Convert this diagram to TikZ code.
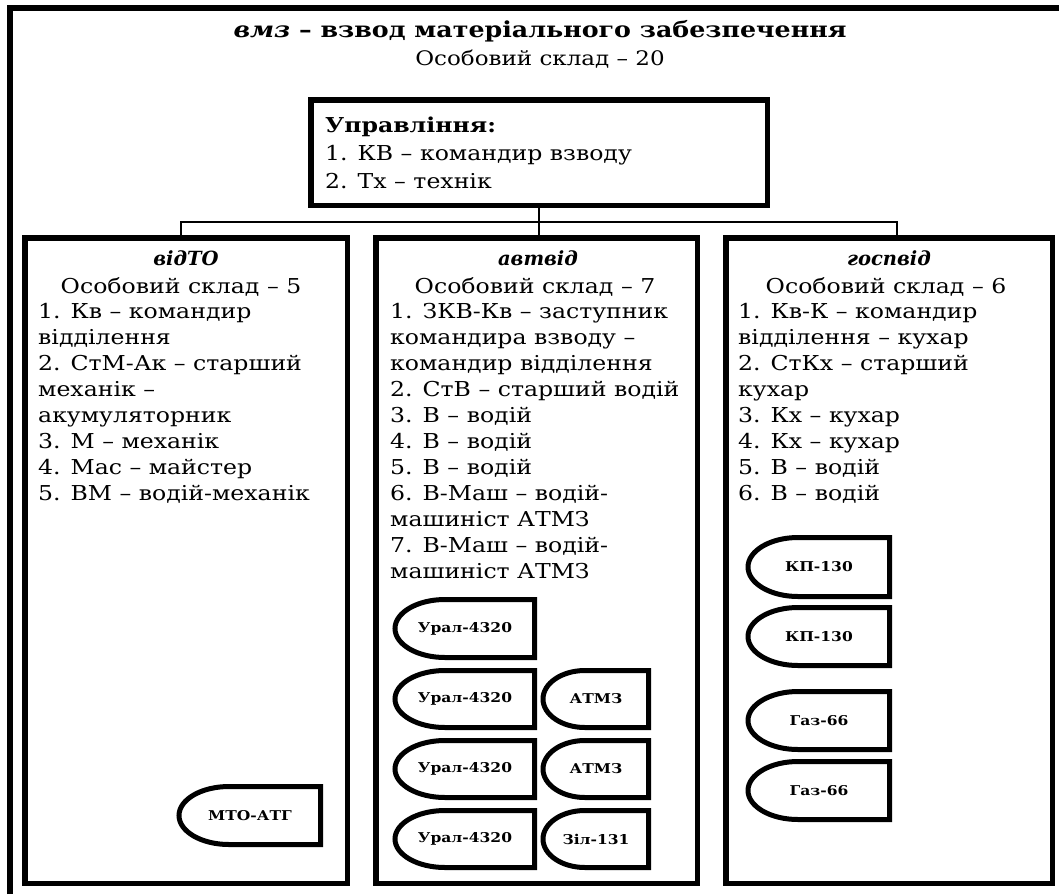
\documentclass[tikz,border=0pt]{standalone}
\usepackage{fontspec}
\setmainfont{DejaVu Serif}
\newcommand\sx[1]{\scalebox{1.15}[1]{#1}}
\begin{document}
\begin{tikzpicture}[x=1pt,y=1pt,
  frame/.style={line width=6pt},
  boxst/.style={draw, line width=5.5pt, inner sep=0pt, outer sep=0pt, anchor=north west},
  conn/.style={line width=1.3pt},
  ttl/.style={font=\fontsize{22}{24}\selectfont\bfseries, inner sep=0pt, anchor=base},
  sub/.style={font=\fontsize{20}{24}\selectfont, inner sep=0pt, anchor=base},
  ln/.style={font=\fontsize{20.5}{24}\selectfont, inner sep=0pt, anchor=base west},
  hdst/.style={font=\fontsize{19.5}{22}\selectfont\bfseries\itshape, inner sep=0pt, anchor=base},
  vtxt/.style={font=\fontsize{13.5}{15}\selectfont\bfseries, inner sep=0pt},
  vshape/.style={line width=5pt, line join=miter}
]
\useasboundingbox (0,0) rectangle (1059,-894);

\newcommand\vehic[7]{% name, x1, y1, x2, y2, text, x radius
  \node[vtxt] (#1) at ({(#2+#4)/2},{-(#3+#5)/2}) {\sx{#6}};
  \draw[vshape] (#4-2.5,-#3-2.5) -- (#4-2.5,-#5+2.5) -- (#2+#7+2,-#5+2.5)
     arc[start angle=-90,end angle=-270,x radius=#7,y radius={(#5-#3-5)/2}] -- cycle;
}
\newcommand\mybox[5]{% name x1 y1 x2 y2 (outer)
  \node[boxst, minimum width={#4-#2-5.5}, minimum height={#5-#3-5.5}] (#1) at (#2+2.75,-#3-2.75) {};
}

% outer frame
\coordinate (fa) at (10,-894);
\coordinate (fb) at (10,-8);
\coordinate (fc) at (1059,-8);
\draw[frame] (fa) -- (fb) -- (fc);

% title
\node[ttl] (title) at (540,-37) {\sx{\textit{вмз} – взвод матеріального забезпечення}};
\node[sub] (sub0) at (540,-65) {\sx{Особовий склад – 20}};

% boxes
\mybox{b0}{308}{97}{770}{208}
\mybox{b1}{22}{235}{350}{886}
\mybox{b2}{373}{235}{700}{886}
\mybox{b3}{723}{235}{1055}{886}

% connectors
\coordinate (jm) at (539,-222);
\coordinate (jl) at (181,-222);
\coordinate (jr) at (897,-222);
\draw[conn] (b0.south) -- (jm) -- (jm |- b2.north);
\draw[conn] (jl |- b1.north) -- (jl) -- (jr) -- (jr |- b3.north);

% management box
\node[ln, font=\fontsize{20.5}{24}\selectfont\bfseries] (u0) at (325,-132) {\sx{Управління:}};
\node[ln] (u1) at (325,-160) {\sx{1. КВ – командир взводу}};
\node[ln] (u2) at (325,-188) {\sx{2. Тх – технік}};

% left box
\node[hdst] (h1) at (186,-265) {відТО};
\node[sub, font=\fontsize{20.5}{24}\selectfont] (s1) at (181,-293) {\sx{Особовий склад – 5}};
\foreach \t [count=\i from 0] in {1. Кв – командир, відділення, 2. СтМ-Ак – старший, механік –, акумуляторник, 3. М – механік, 4. Мас – майстер, 5. ВМ – водій-механік}
  \node[ln] (l1-\i) at (38,-318-26*\i) {\sx{\t}};

% middle box
\node[hdst] (h2) at (538,-265) {автвід};
\node[sub, font=\fontsize{20.5}{24}\selectfont] (s2) at (535,-293) {\sx{Особовий склад – 7}};
\foreach \t [count=\i from 0] in {1. ЗКВ-Кв – заступник, командира взводу –, командир відділення, 2. СтВ – старший водій, 3. В – водій, 4. В – водій, 5. В – водій, 6. В-Маш – водій-, машиніст АТМЗ, 7. В-Маш – водій-, машиніст АТМЗ}
  \node[ln] (l2-\i) at (390,-318-26*\i) {\sx{\t}};

% right box
\node[hdst] (h3) at (889,-265) {госпвід};
\node[sub, font=\fontsize{20.5}{24}\selectfont] (s3) at (886,-293) {\sx{Особовий склад – 6}};
\foreach \t [count=\i from 0] in {1. Кв-К – командир, відділення – кухар, 2. СтКх – старший, кухар, 3. Кх – кухар, 4. Кх – кухар, 5. В – водій, 6. В – водій}
  \node[ln] (l3-\i) at (738,-318-26*\i) {\sx{\t}};

% vehicles
\vehic{v0}{177}{784}{323}{847}{МТО-АТГ}{50}
\vehic{v1}{393}{597}{537}{660}{Урал-4320}{50}
\vehic{v2}{393}{668}{537}{730}{Урал-4320}{50}
\vehic{v3}{541}{668}{651}{730}{АТМЗ}{42}
\vehic{v4}{393}{738}{537}{800}{Урал-4320}{50}
\vehic{v5}{541}{738}{651}{800}{АТМЗ}{42}
\vehic{v6}{393}{808}{537}{870}{Урал-4320}{50}
\vehic{v7}{541}{808}{651}{870}{Зіл-131}{42}
\vehic{v8}{746}{535}{892}{599}{КП-130}{50}
\vehic{v9}{746}{605}{892}{668}{КП-130}{50}
\vehic{v10}{746}{689}{892}{752}{Газ-66}{50}
\vehic{v11}{746}{759}{892}{822}{Газ-66}{50}
\end{tikzpicture}
\end{document}
